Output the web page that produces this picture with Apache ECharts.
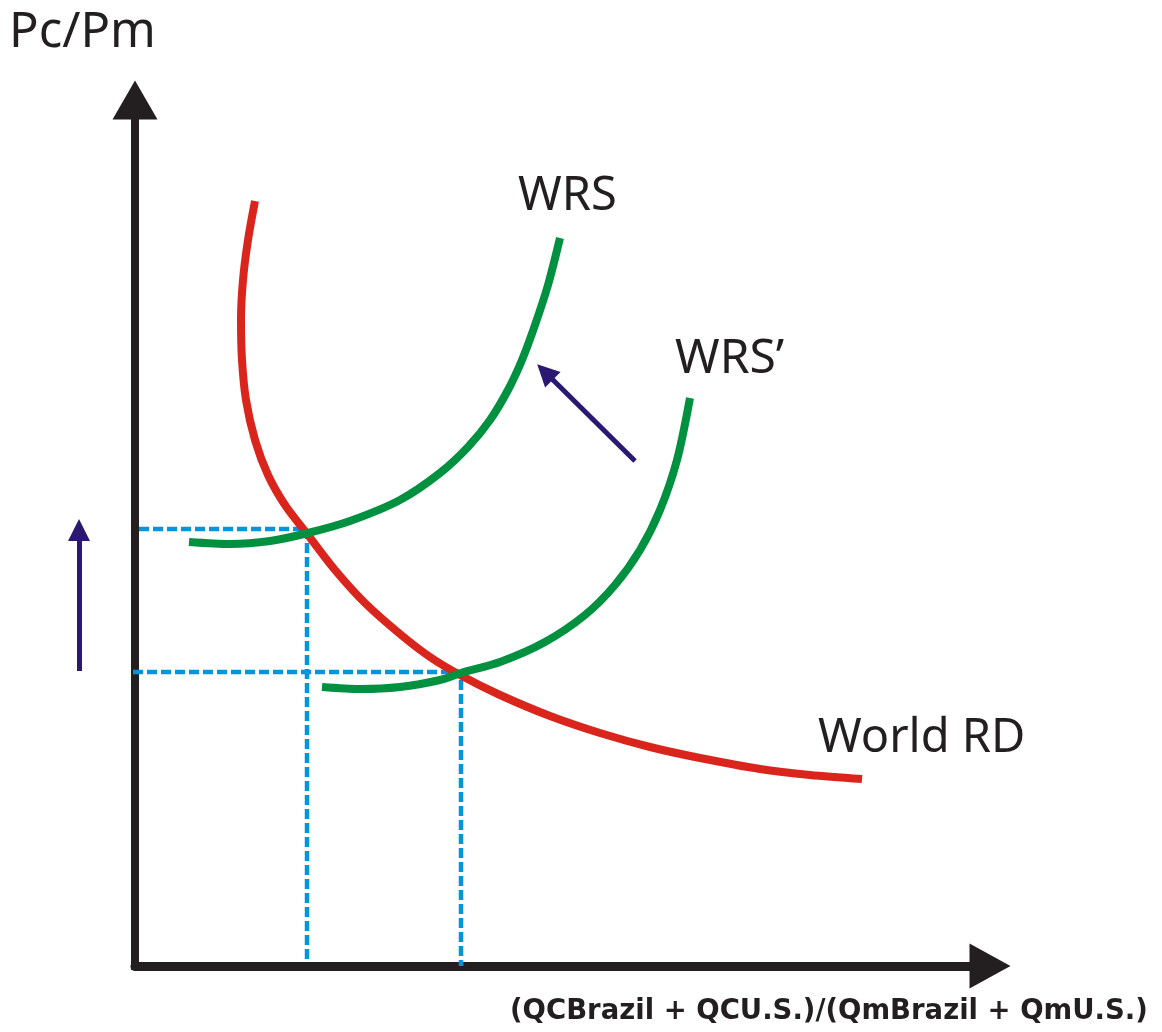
<!DOCTYPE html>
<html>
<head>
<meta charset="utf-8">
<script src="https://cdn.jsdelivr.net/npm/echarts@6/dist/echarts.min.js"></script>
<style>
  html, body { margin: 0; padding: 0; background: #fff; }
  #chart { width: 1162px; height: 1032px; }
</style>
</head>
<body>
<div id="chart"></div>
<script>
// schematic values, measured from the axis corner
const worldRD = [
  [120, 765], [113, 726], [108, 686], [106, 646], [107, 606], [111, 566],
  [120, 526], [133, 491], [150, 461], [173, 431], [200, 396], [230, 363],
  [265, 332], [295, 309], [325, 291], [365, 271], [415, 250], [465, 233],
  [515, 219], [565, 208], [625, 197], [675, 191], [727, 187]
]
const wrs = [
  [54, 424], [95, 422], [135, 425], [173, 433], [215, 445], [265, 466],
  [305, 493], [333, 519], [355, 546], [373, 576], [387, 606], [400, 641],
  [413, 681], [425, 728]
]
const wrsPrime = [
  [187, 279], [225, 277], [265, 279], [305, 286], [326, 293], [365, 304],
  [410, 324], [450, 351], [480, 381], [505, 416], [525, 456], [542, 506],
  [555, 568]
]
// equilibrium guides
const guideHigh = [[4, 437], [172, 437], [172, 4]]
const guideLow = [[-2, 294], [326, 294], [326, 0]]
// shift arrows
const shiftArrows = [
  [[-56, 295], [-56, 436]],
  [[500, 505], [410, 594]]
]

const chart = echarts.init(document.getElementById('chart'))
const ink = '#231f20'

const option = {
  backgroundColor: '#fff',
  animation: false,
  grid: { left: 135, top: 100, right: 172, bottom: 66 },
  xAxis: {
    type: 'value', min: 0, max: 855,
    axisLine: {
      lineStyle: { color: ink, width: 9 },
      symbol: ['none', 'triangle'], symbolSize: [45, 41]
    },
    axisTick: { show: false }, axisLabel: { show: false }, splitLine: { show: false }
  },
  yAxis: {
    type: 'value', min: 0, max: 866,
    axisLine: {
      show: true,
      lineStyle: { color: ink, width: 8, cap: 'square' },
      symbol: ['none', 'triangle'], symbolSize: [45, 39]
    },
    axisTick: { show: false }, axisLabel: { show: false }, splitLine: { show: false }
  },
  series: [
    {
      type: 'line', data: guideHigh, symbol: 'none', clip: false, z: 1,
      lineStyle: { color: '#0096de', width: 4.5, type: [10, 4] }
    },
    {
      type: 'line', data: guideLow, symbol: 'none', clip: false, z: 1,
      lineStyle: { color: '#0096de', width: 4.5, type: [10, 4] }
    },
    {
      name: 'World RD', type: 'line', data: worldRD, symbol: 'none', smooth: 0.3, z: 3,
      lineStyle: { color: '#da251d', width: 8 }
    },
    {
      name: 'WRS', type: 'line', data: wrs, symbol: 'none', smooth: 0.3, z: 4,
      lineStyle: { color: '#009140', width: 8 }
    },
    {
      name: "WRS'", type: 'line', data: wrsPrime, symbol: 'none', smooth: 0.3, z: 4,
      lineStyle: { color: '#009140', width: 8 }
    },
    {
      type: 'lines', coordinateSystem: 'cartesian2d', clip: false, z: 5,
      symbol: ['none', 'triangle'], symbolSize: [25, 22],
      lineStyle: { color: '#2b1871', width: 5, opacity: 1 },
      data: shiftArrows.map(c => ({ coords: c }))
    }
  ],
  graphic: [
    { type: 'text', left: 9, top: 9, style: { text: 'Pc/Pm', font: '49px "Noto Sans"', fill: ink } },
    { type: 'text', left: 518, top: 173, style: { text: 'WRS', font: '47px "Noto Sans"', fill: ink } },
    { type: 'text', left: 675, top: 335, style: { text: 'WRS\u2019', font: '48px "Noto Sans"', fill: ink } },
    { type: 'text', left: 818, top: 715, style: { text: 'World RD', font: '47px "Noto Sans"', fill: ink } },
    { type: 'text', left: 510, top: 998, style: { text: '(QCBrazil + QCU.S.)/(QmBrazil + QmU.S.)', font: 'bold 27.5px "DejaVu Sans"', fill: ink } }
  ]
}
chart.setOption(option)
window.addEventListener('resize', function() {
  chart.resize()
})
</script>
</body>
</html>
